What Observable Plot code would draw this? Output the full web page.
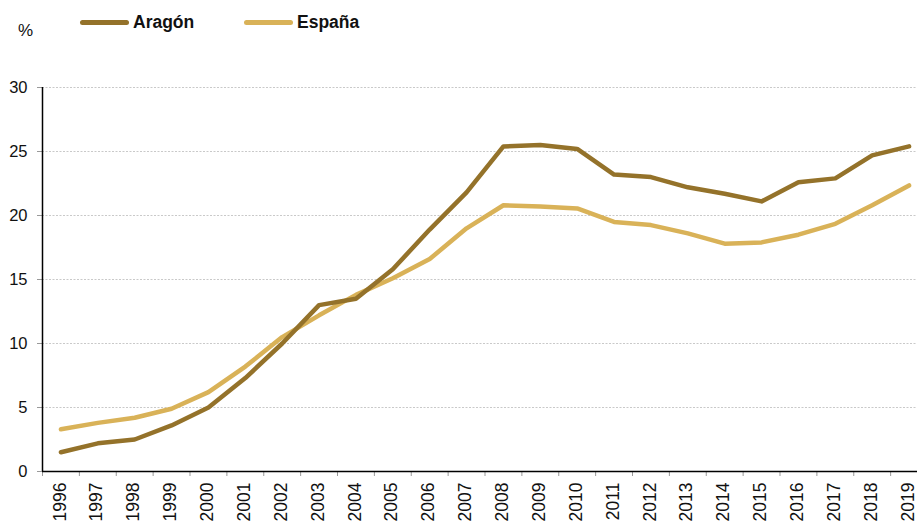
<!DOCTYPE html>
<html>
<head>
<meta charset="utf-8">
<script src="https://cdn.jsdelivr.net/npm/d3@7"></script>
<script src="https://cdn.jsdelivr.net/npm/@observablehq/plot@0.6"></script>
<style>
  body { margin: 0; background: #fff; font-family: "Liberation Sans", Arial, sans-serif; }
  #wrap { position: relative; width: 917px; height: 523px; overflow: hidden; }
  #legend { position: relative; height: 40px; }
  #pct { position: absolute; left: 18px; top: 21px; font-size: 17px; color: #111; }
  .item { position: absolute; top: 12px; display: flex; align-items: center; font-weight: bold; font-size: 17.5px; color: #111; }
  .sw { width: 49px; height: 5px; border-radius: 3px; margin-right: 4px; }
</style>
</head>
<body>
<div id="wrap">
  <div id="legend">
    <div id="pct">%</div>
    <div class="item" style="left:80px"><span class="sw" id="sw0"></span><span id="lab0"></span></div>
    <div class="item" style="left:244px"><span class="sw" id="sw1"></span><span id="lab1"></span></div>
  </div>
  <div id="chart"></div>
</div>
<script>
const years = [1996,1997,1998,1999,2000,2001,2002,2003,2004,2005,2006,2007,2008,2009,2010,2011,2012,2013,2014,2015,2016,2017,2018,2019];
const seriesNames = ["Aragón", "España"];
const aragon = [1.5,2.2,2.5,3.6,5.0,7.3,10.0,13.0,13.5,15.8,18.9,21.8,25.4,25.5,25.2,23.2,23.0,22.2,21.7,21.1,22.6,22.9,24.7,25.4];
const espana = [3.3,3.8,4.2,4.9,6.2,8.2,10.5,12.2,13.8,15.1,16.6,19.0,20.8,20.7,20.55,19.5,19.25,18.6,17.8,17.9,18.5,19.35,20.8,22.35];
const yTicks = [0,5,10,15,20,25,30];
const colors = ["#94722a", "#d9b258"];

const data = [];
years.forEach((yr, i) => {
  data.push({year: yr, value: aragon[i], serie: seriesNames[0]});
  data.push({year: yr, value: espana[i], serie: seriesNames[1]});
});
const edges = years.map(y => y - 0.5);

document.getElementById("sw0").style.background = colors[0];
document.getElementById("sw1").style.background = colors[1];
document.getElementById("lab0").textContent = seriesNames[0];
document.getElementById("lab1").textContent = seriesNames[1];

const chart = Plot.plot({
  width: 917,
  height: 483,
  marginTop: 47,
  marginBottom: 52,
  marginLeft: 42,
  marginRight: 0,
  style: {fontFamily: "'Liberation Sans', Arial, sans-serif", fontSize: "16px", color: "#111", background: "#fff", overflow: "visible"},
  x: {type: "linear", domain: [1995.5, 2019.5], range: [42, 927]},
  y: {domain: [0, 30]},
  color: {domain: seriesNames, range: colors},
  marks: [
    Plot.gridY(yTicks.filter(d => d > 0), {stroke: "#c9c9c9", strokeOpacity: 1, strokeDasharray: "2,1.5"}),
    Plot.axisY(yTicks, {tickSize: 5, tickPadding: 10, stroke: "#999", fill: "#111", fontSize: 16.5, label: null}),
    Plot.axisX(edges, {tickSize: 5, stroke: "#999", tickFormat: () => "", label: null}),
    Plot.axisX(years, {tickSize: 0, tickPadding: 11, tickRotate: -90, tickFormat: d => String(d), fill: "#111", fontSize: 17.5, dx: -1, label: null}),
    Plot.ruleX([1995.5], {stroke: "#000", strokeWidth: 1.5}),
    Plot.ruleY([0], {stroke: "#000", strokeWidth: 1.5}),
    Plot.line(data.filter(d => d.serie === seriesNames[1]), {x: "year", y: "value", stroke: "serie", strokeWidth: 4.5, strokeLinejoin: "round", strokeLinecap: "round"}),
    Plot.line(data.filter(d => d.serie === seriesNames[0]), {x: "year", y: "value", stroke: "serie", strokeWidth: 4.5, strokeLinejoin: "round", strokeLinecap: "round"})
  ]
});
document.getElementById("chart").appendChild(chart);
</script>
</body>
</html>
